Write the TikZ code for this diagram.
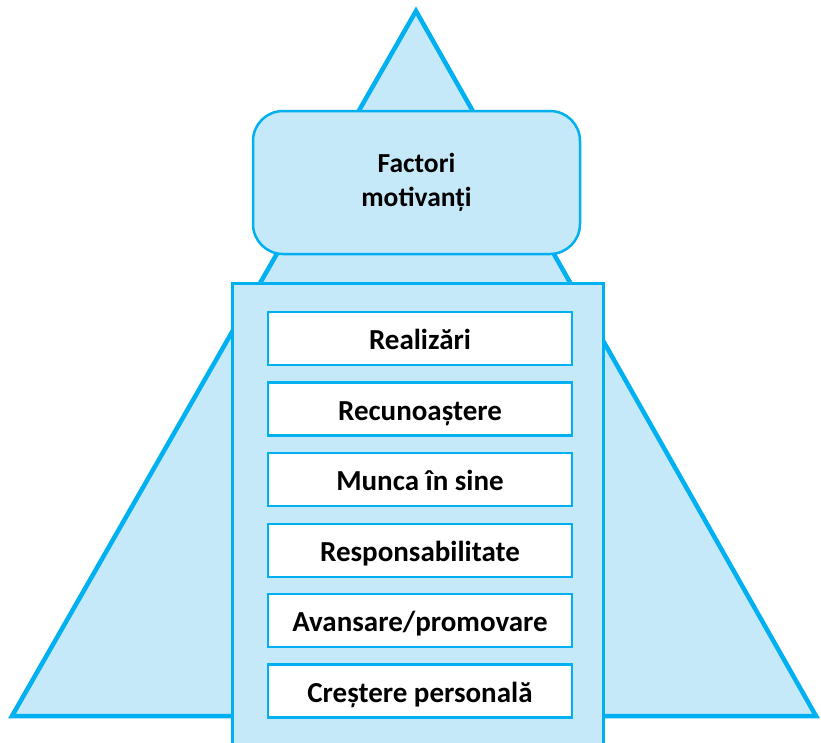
\documentclass[tikz,border=0pt]{standalone}
\usepackage{fontspec}
\setmainfont{Carlito}
\definecolor{edgeblue}{HTML}{00B0F0}
\definecolor{fillblue}{HTML}{C5E9F9}
\tikzset{
  factorbox/.style={draw=edgeblue,line width=2.5pt,fill=white,minimum width=304pt,
    minimum height=53pt,text height=25pt,text depth=3pt,
    font=\fontsize{29}{34}\selectfont\bfseries},
}
\begin{document}
\begin{tikzpicture}[x=1pt,y=-1pt]
  \useasboundingbox (0,0) rectangle (821,742);
  \clip (0,0) rectangle (821,742);
  % piramida
  \coordinate (apex) at (416,11);
  \coordinate (left) at (12,716);
  \coordinate (right) at (816,716);
  \draw[edgeblue,line width=4.5pt,fill=fillblue,line join=miter] (apex) -- (left) -- (right) -- cycle;
  \node[draw=edgeblue,line width=2.5pt,fill=fillblue,rounded corners=30pt,
    minimum width=327pt,minimum height=143pt,align=center,
    font=\fontsize{27.5}{34}\selectfont\bfseries] (factori) at (416.5,182.5) {Factori\\motivanți};
  \node[draw=edgeblue,line width=2.5pt,fill=fillblue,anchor=north,
    minimum width=371pt,minimum height=480pt] (panel) at (418,282) {};
  \node[factorbox] (realizari) at (420,338.5) {Realizări};
  \node[factorbox] (recunoastere) at (420,409) {Recunoaștere};
  \node[factorbox] (munca) at (420,479.5) {Munca în sine};
  \node[factorbox] (responsabilitate) at (420,550.5) {Responsabilitate};
  \node[factorbox] (avansare) at (420,620.5) {Avansare/promovare};
  \node[factorbox] (crestere) at (420,691) {Creștere personală};
\end{tikzpicture}
\end{document}
